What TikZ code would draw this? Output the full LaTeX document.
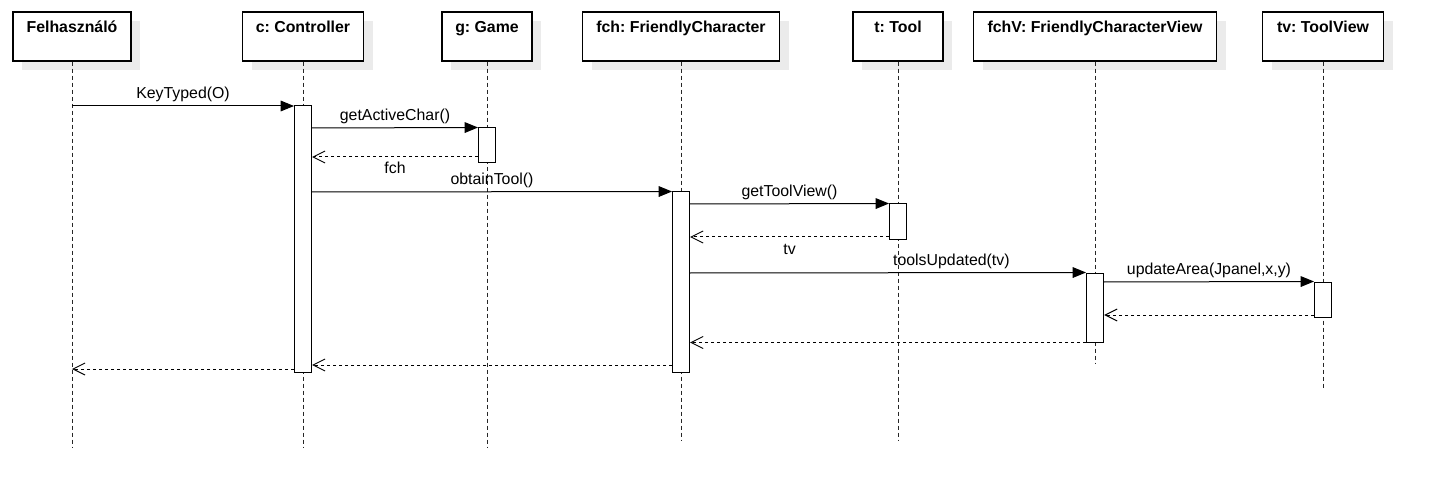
\documentclass[tikz,border=0pt]{standalone}
\usepackage{fontspec}
\setmainfont{Liberation Sans}
\usetikzlibrary{arrows.meta,shadows}
\frenchspacing

\begin{document}
\begin{tikzpicture}[x=.75pt,y=-.75pt,
  every node/.style={font=\fontsize{11.9}{14}\selectfont},
  head/.style={draw=black,line width=.9pt,fill=white,minimum height=36.75pt,inner sep=0pt,
    drop shadow={shadow xshift=6.75pt,shadow yshift=-6.75pt,fill=black!8,opacity=1}},
  headtext/.style={anchor=base,font=\fontsize{11.9}{14}\selectfont\bfseries},
  lifeline/.style={draw=black!85,line width=.75pt,dash pattern=on 3pt off 2.25pt},
  bar/.style={draw=black,line width=.75pt,fill=white,minimum width=12.75pt,inner sep=0pt},
  call/.style={draw=black,line width=.75pt,-{Triangle[length=10pt,width=8pt]}},
  reply/.style={draw=black,line width=.75pt,dash pattern=on 2.25pt off 2.25pt,
    -{Straight Barb[length=9pt,width=9pt]}},
  calllabel/.style={midway,anchor=base,yshift=5.25pt},
  replylabel/.style={midway,anchor=base,yshift=-12.75pt}]
  \useasboundingbox (0,0) rectangle (1430,502);

  % object heads and lifelines
  \foreach \n/\x/\w/\e/\t in {felh/72/118/448/Felhasználó,ctrl/303/121/448/c: Controller,
      game/487/90/448/g: Game,fch/681/197/441/fch: FriendlyCharacter,tool/898/90/441/t: Tool,
      fchv/1095/243/364/fchV: FriendlyCharacterView,tv/1323/121/388/tv: ToolView}{
    \node[head,minimum width=\w*.75pt] (\n) at (\x,36.5) {};
    \node[headtext] (\n-t) at (\x,33) {\t};
    \draw[lifeline] (\n.south) -- (\n |- 0,\e);
  }

  % activations
  \foreach \n/\x/\ya/\yb in {ctrlA/303/106/372,gameA/487/128/163,fchA/681/192/372,
      toolA/898/204/240,fchvA/1095/273/342,tvA/1323/282/317}{
    \node[bar,minimum height={(\yb-\ya)*.75pt}] (\n) at (\x,{(\ya+\yb)/2}) {};
  }

  % messages
  \draw[call] (felh |- 0,106) -- (ctrlA.west |- 0,106) node[calllabel] {KeyTyped(O)};
  \draw[call] (ctrlA.east |- 0,128) -- (gameA.north west) node[calllabel] {getActiveChar()};
  \draw[reply] (gameA.west |- 0,157) -- (ctrlA.east |- 0,157) node[replylabel] {fch};
  \draw[call] (ctrlA.east |- 0,192) -- (fchA.north west) node[calllabel] {obtainTool()};
  \draw[call] (fchA.east |- 0,204) -- (toolA.north west) node[calllabel] {getToolView()};
  \draw[reply] (toolA.west |- 0,237) -- (fchA.east |- 0,237) node[replylabel] {tv};
  \draw[call] (fchA.east |- 0,273) -- (fchvA.north west) node[calllabel,pos=.66] {toolsUpdated(tv)};
  \draw[call] (fchvA.east |- 0,282) -- (tvA.north west) node[calllabel] {updateArea(Jpanel,x,y)};
  \draw[reply] (tvA.west |- 0,315) -- (fchvA.east |- 0,315);
  \draw[reply] (fchvA.south west) -- (fchA.east |- fchvA.south west);
  \draw[reply] (fchA.west |- 0,365) -- (ctrlA.east |- 0,365);
  \draw[reply] (ctrlA.west |- 0,369) -- (felh |- 0,369);
\end{tikzpicture}
\end{document}
